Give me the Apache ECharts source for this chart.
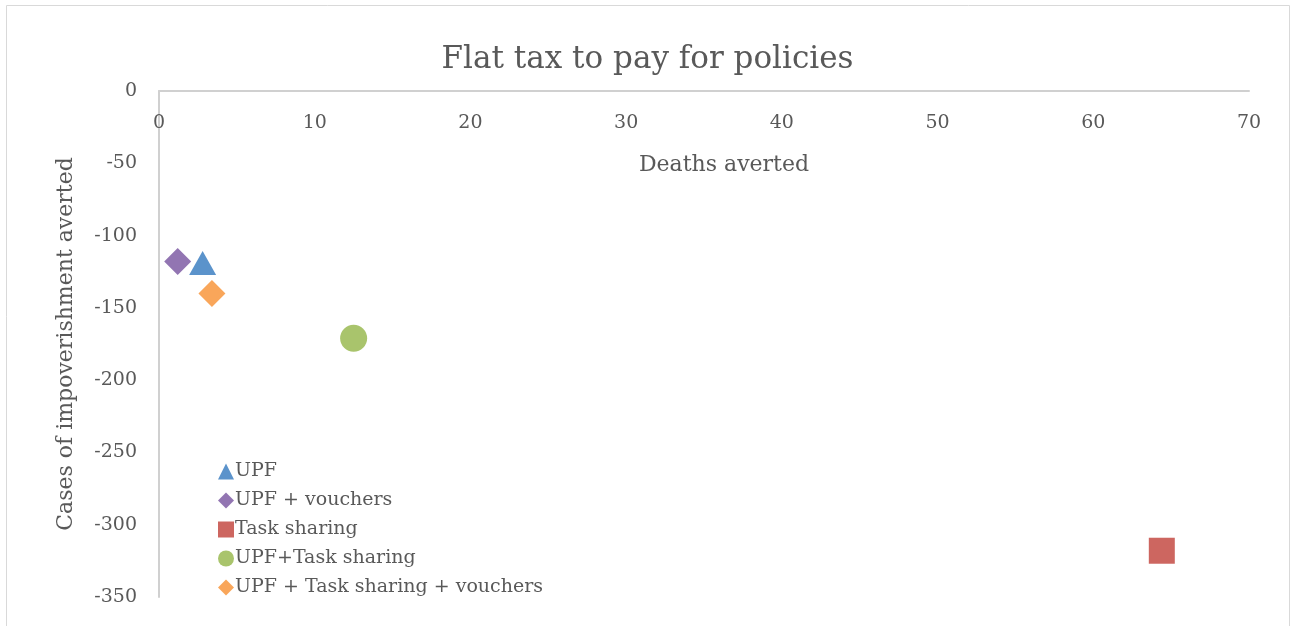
<!DOCTYPE html>
<html><head><meta charset="utf-8">
<script src="https://cdn.jsdelivr.net/npm/echarts@6/dist/echarts.min.js"></script>
<style>html,body{margin:0;padding:0;background:#fff}#c{width:1295px;height:626px}</style>
</head><body><div id="c"></div>
<script>
var seriesNames = ['UPF', 'UPF + vouchers', 'Task sharing', 'UPF+Task sharing', 'UPF + Task sharing + vouchers'];
var deathsAverted = [2.8, 1.2, 64.4, 12.5, 3.4];
var impoverishmentAverted = [-119, -118, -318, -171, -140];
var xTicks = [0, 70, 10];
var yTicks = [-350, 0, 50];
var symbols = ['triangle', 'diamond', 'rect', 'circle', 'diamond'];
var colors = ['#5b93cb', '#9275b2', '#cd6660', '#a9c46c', '#f9a65a'];
var symbolSizes = [[27, 24], [27, 27], [26, 26], [27, 27], [27, 27]];

var font = '"DejaVu Serif", serif';
var txt = '#595959';
var chart = echarts.init(document.getElementById('c'));
var series = seriesNames.map(function (n, i) {
  return {
    name: n, type: 'scatter', symbol: symbols[i], symbolSize: symbolSizes[i],
    itemStyle: { color: colors[i], opacity: 1 },
    data: [[deathsAverted[i], impoverishmentAverted[i]]]
  };
});
chart.setOption({
  animation: false,
  textStyle: { fontFamily: font },
  graphic: [{ type: 'rect', shape: { x: 6.5, y: 5.5, width: 1283, height: 640 }, style: { fill: 'none', stroke: '#d9d9d9', lineWidth: 1 } }],
  title: { text: 'Flat tax to pay for policies', left: 'center', top: 39, textStyle: { fontFamily: font, fontSize: 31, fontWeight: 'normal', color: txt } },
  legend: {
    orient: 'vertical', left: 213, top: 457, itemGap: 10, itemWidth: 16, itemHeight: 16,
    data: seriesNames.map(function (n, i) { return { name: n, icon: symbols[i] }; }),
    textStyle: { fontFamily: font, fontSize: 19, color: txt, padding: [0, 0, 0, -4] }
  },
  grid: { left: 159, right: 46, top: 91, bottom: 29, outerBoundsMode: 'none' },
  xAxis: {
    type: 'value', position: 'top', min: xTicks[0], max: xTicks[1], interval: xTicks[2],
    name: 'Deaths averted', nameLocation: 'middle', nameGap: -85,
    nameTextStyle: { fontFamily: font, fontSize: 22, color: txt, padding: [0, 0, 0, 40] },
    axisLine: { onZero: false, lineStyle: { color: '#d0d0d0', width: 2 } },
    axisTick: { show: false }, splitLine: { show: false },
    axisLabel: { inside: true, fontFamily: font, fontSize: 19, color: txt, margin: 23 }
  },
  yAxis: {
    type: 'value', min: yTicks[0], max: yTicks[1], interval: yTicks[2],
    name: 'Cases of impoverishment averted', nameLocation: 'middle', nameGap: 82,
    nameTextStyle: { fontFamily: font, fontSize: 22, color: txt },
    axisLine: { show: true, onZero: false, lineStyle: { color: '#d0d0d0', width: 2 } },
    axisTick: { show: false }, splitLine: { show: false },
    axisLabel: { fontFamily: font, fontSize: 19, color: txt, margin: 22 }
  },
  series: series
});
</script></body></html>
